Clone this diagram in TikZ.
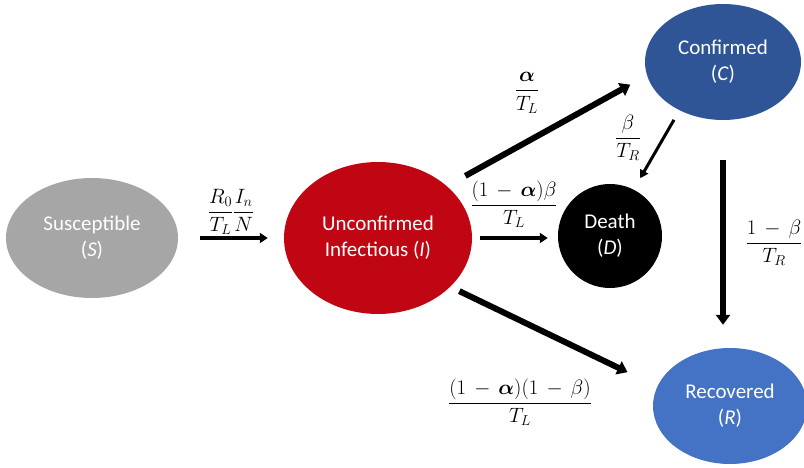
\documentclass[tikz,border=0pt]{standalone}
\usepackage{amsmath,bm}
\usepackage{fontspec}
\setmainfont{Carlito}
\usetikzlibrary{arrows.meta,shapes.geometric}
\definecolor{sgray}{RGB}{166,166,166}
\definecolor{ired}{RGB}{192,6,18}
\definecolor{cblue}{RGB}{47,85,151}
\definecolor{rblue}{RGB}{68,114,196}
\tikzset{
  comp/.style={ellipse, inner sep=0pt, text=white, align=center, font=\fontsize{21}{26}\selectfont},
  rate/.style={inner sep=0pt, font=\fontsize{20.5}{24}\selectfont},
  bigarrow/.style={line width=6pt, -{Triangle[length=10pt,width=14pt]}},
  midarrow/.style={line width=4pt, -{Triangle[length=8pt,width=10pt]}},
  thinarrow/.style={line width=3pt, -{Triangle[length=8pt,width=9pt]}}
}
\begin{document}
\begin{tikzpicture}[x=1pt,y=-1pt]
\useasboundingbox (0,0) rectangle (804,468);
\node[comp, fill=sgray, minimum width=172pt, minimum height=120pt] (S) at (92,238) {Susceptible\\(\textit{S})};
\node[comp, fill=ired, minimum width=188pt, minimum height=152pt] (I) at (378,238) {Unconfirmed\\Infectious (\textit{I})};
\node[comp, circle, fill=black, minimum size=104pt] (D) at (610,236) {Death\\(\textit{D})};
\node[comp, fill=cblue, minimum width=156pt, minimum height=116pt] (C) at (723,62) {Confirmed\\(\textit{C})};
\node[comp, fill=rblue, minimum width=154pt, minimum height=116pt] (R) at (730,406) {Recovered\\(\textit{R})};

\draw[midarrow, shorten <=22pt, shorten >=16pt] (S.east) -- (I.west);
\draw[midarrow, shorten <=8pt, shorten >=10pt] (I.east) -- (I.east -| D.west);
\draw[bigarrow, shorten <=21pt, shorten >=19pt] (I.37) -- (C.190);
\draw[thinarrow, shorten <=11pt, shorten >=13pt] (C.228) -- (D.63);
\draw[bigarrow, shorten <=40pt, shorten >=23pt] (C.south) -- (C.south |- R.north);
\draw[bigarrow, shorten <=10pt, shorten >=33pt] (I.-34.5) -- (R.165);

\node[rate] (lSI) at (231,212) {$\dfrac{R_0}{T_L}\dfrac{I_n}{N}$};
\node[rate] (lID) at (514,204) {$\dfrac{(1\,-\,\bm{\alpha})\beta}{T_L}$};
\node[rate] (lIC) at (527,93) {$\dfrac{\bm{\alpha}}{T_L}$};
\node[rate] (lCD) at (628,138) {$\dfrac{\beta}{T_R}$};
\node[rate] (lCR) at (774,243) {$\dfrac{1\,-\,\beta}{T_R}$};
\node[rate] (lIR) at (520,402) {$\dfrac{(1\,-\,\bm{\alpha})(1\,-\,\beta)}{T_L}$};
\end{tikzpicture}
\end{document}
